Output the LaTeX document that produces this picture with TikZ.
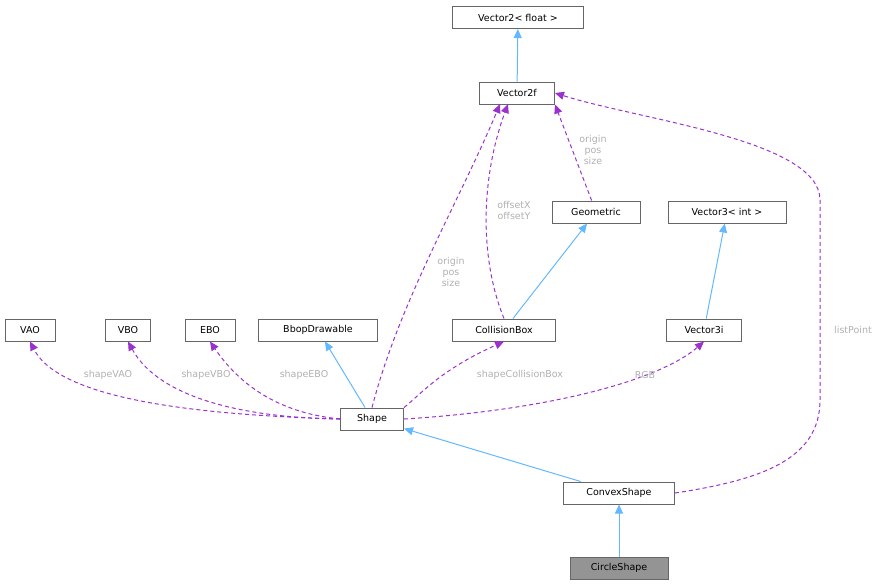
\documentclass[tikz,border=0pt]{standalone}
\usepackage{fontspec}
\setmainfont{DejaVu Sans}
\usetikzlibrary{arrows.meta}
\definecolor{inh}{HTML}{63B8FF}
\definecolor{use}{HTML}{9A32CD}
\definecolor{lbl}{HTML}{B0B0B0}
\begin{document}
\begin{tikzpicture}[x=1pt,y=-1pt,line width=1pt,
  box/.style={draw=black!60,fill=white,minimum height=22pt,inner xsep=4pt,font=\fontsize{9.5}{10}\selectfont,anchor=center},
  inhe/.style={draw=inh,-{Triangle[open,length=9pt,width=8pt,fill=inh]}},
  usee/.style={draw=use,dash pattern=on 4pt off 3pt,-{Triangle[length=9pt,width=8pt,fill=use]}},
  lab/.style={text=lbl,font=\fontsize{9.5}{11}\selectfont,align=center}]
\useasboundingbox (0,0) rectangle (886,587);
\node[box,minimum width=131pt] (v2f) at (518,17.5) {Vector2< float >};
\node[box,minimum width=75pt] (v2) at (517,93) {Vector2f};
\node[box,minimum width=88pt] (geo) at (596,212) {Geometric};
\node[box,minimum width=118pt] (v3int) at (727,212) {Vector3< int >};
\node[box,minimum width=50pt] (vao) at (30,330) {VAO};
\node[box,minimum width=45pt] (vbo) at (128,330) {VBO};
\node[box,minimum width=50pt] (ebo) at (210,330) {EBO};
\node[box,minimum width=119pt] (bbop) at (318,330) {BbopDrawable};
\node[box,minimum width=103pt] (cb) at (504,330) {CollisionBox};
\node[box,minimum width=75pt] (v3i) at (704,330) {Vector3i};
\node[box,minimum width=63pt] (shape) at (372,419) {Shape};
\node[box,minimum width=111pt] (cs) at (619,493) {ConvexShape};
\node[box,minimum width=98pt,fill=black!42] (circ) at (619,568) {CircleShape};

\draw[inhe] (v2) -- (v2f);
\draw[inhe] (v3i) -- (v3int);
\draw[inhe] (cb) -- (geo);
\draw[inhe] (shape) -- (bbop);
\draw[inhe] (cs) -- (shape);
\draw[inhe] (circ) -- (cs);

\draw[usee] (geo) -- (v2.south east);
\draw[usee] (cb.north) .. controls (480,260) and (480,180) .. (508,104);
\draw[usee] (shape.north) .. controls (400,300) and (460,200) .. (500,104);
\draw[usee] (cs.east) .. controls (760,480) and (820,460) .. (820,400) -- (820,200) .. controls (820,140) and (640,120) .. (v2.east);
\draw[usee] (shape.west) .. controls (200,415) and (60,400) .. (vao.south);
\draw[usee] (shape.west) .. controls (250,418) and (160,400) .. (vbo.south);
\draw[usee] (shape.west) .. controls (300,415) and (250,400) .. (ebo.south);
\draw[usee] (shape.north east) .. controls (420,395) and (440,370) .. (cb.south);
\draw[usee] (shape.east) .. controls (550,410) and (660,380) .. (v3i.south);

\node[lab] at (593,150) {origin\\pos\\size};
\node[lab] at (514,210) {offsetX\\offsetY};
\node[lab] at (451,272) {origin\\pos\\size};
\node[lab] at (853,330) {listPoint};
\node[lab] at (108,375) {shapeVAO};
\node[lab] at (206,375) {shapeVBO};
\node[lab] at (304,375) {shapeEBO};
\node[lab] at (520,375) {shapeCollisionBox};
\node[lab] at (645,375) {RGB};
\end{tikzpicture}
\end{document}
